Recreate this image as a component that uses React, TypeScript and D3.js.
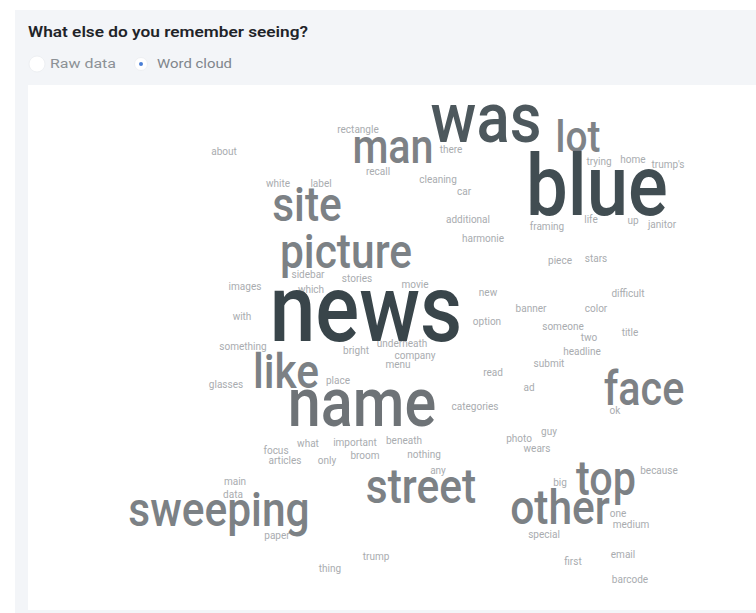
import React from "react";
import * as d3 from "d3";

const W = 756;
const H = 613;

const TITLE = "What else do you remember seeing?";
const OPTIONS = ["Raw data", "Word cloud"];

// words, their counts and their layout position (cloud units, offset from cloud centre)
const words = [
  "news", "blue", "was", "name", "picture", "site", "man", "lot", "like", "face", "street", "sweeping", "other", "top",
  "rectangle", "about", "recall", "white", "label", "there", "cleaning", "car", "trying", "home", "trump's",
  "additional", "framing", "life", "up", "janitor", "harmonie", "piece", "stars", "new", "difficult",
  "sidebar", "stories", "images", "which", "movie", "with", "something", "bright", "underneath", "company",
  "menu", "glasses", "place", "categories", "option", "banner", "color", "someone", "title", "two",
  "headline", "submit", "read", "ad", "ok", "focus", "what", "important", "beneath", "articles",
  "only", "broom", "nothing", "any", "main", "data", "paper", "trump", "thing", "guy",
  "photo", "wears", "because", "big", "one", "medium", "special", "first", "email", "barcode",
];
const counts = [
  67, 55, 38, 35, 18, 18, 17, 15, 18, 17, 18, 18, 18, 17,
  1, 1, 1, 1, 1, 1, 1, 1, 1, 1, 1,
  1, 1, 1, 1, 1, 1, 1, 1, 1, 1,
  1, 1, 1, 1, 1, 1, 1, 1, 1, 1,
  1, 1, 1, 1, 1, 1, 1, 1, 1, 1,
  1, 1, 1, 1, 1, 1, 1, 1, 1, 1,
  1, 1, 1, 1, 1, 1, 1, 1, 1, 1,
  1, 1, 1, 1, 1, 1, 1, 1, 1, 1,
];
const layoutX = [
  -34, 197, 86, -38, -54, -93, -7, 178, -114, 244, 21, -181, 160, 206,
  -42, -176, -22, -122, -79, 51, 38, 64, 199, 233, 268,
  68, 147, 191, 233, 262, 83, 160, 196, 88, 228,
  -92, -43, -155, -89, 15, -158, -157, -44, 2, 15,
  -2, -174, -62, 75, 87, 131, 196, 163, 230, 189,
  182, 149, 93, 129, 215, -124, -92, -45, 4, -115,
  -73, -35, 24, 38, -165, -167, -123, -24, -70, 149,
  119, 137, 259, 160, 218, 231, 144, 173, 223, 230,
];
const layoutY = [
  1, -125, -198, 86, -72, -119, -177, -188, 48, 65, 163, 186, 184, 155,
  -207, -185, -165, -153, -153, -187, -157, -145, -175, -177, -172,
  -117, -110, -117, -116, -112, -98, -76, -78, -44, -43,
  -62, -58, -50, -47, -52, -20, 10, 14, 7, 19,
  28, 48, 44, 70, -15, -28, -28, -10, -4, 1,
  15, 27, 36, 51, 74, 114, 107, 106, 104, 124,
  124, 119, 118, 134, 145, 158, 199, 220, 232, 95,
  102, 112, 134, 146, 177, 188, 198, 225, 218, 243,
];

const CX = 400;
const CY = 340;

export default function App() {
  const x = d3.scaleLinear().domain([-300, 300]).range([CX - 300, CX + 300]);
  const y = d3.scaleLinear().domain([-300, 300]).range([CY - 300, CY + 300]);
  const maxCount = d3.max(counts) as number;
  const size = d3.scaleSqrt().domain([0, maxCount]).range([0, 82]);
  const color = d3
    .scaleLinear<string>()
    .domain([1, 15, 35, 38, 67])
    .range(["#a9acaf", "#7f8387", "#6e7377", "#4d585d", "#39454a"])
    .clamp(true);

  const items = words.map((w, i) => ({
    text: w,
    count: counts[i],
    x: x(layoutX[i]),
    y: y(layoutY[i]),
  }));
  // draw small words first so big words sit on top
  const sorted = [...items].sort((a, b) => a.count - b.count);

  return (
    <svg
      width={W}
      height={H}
      style={{ position: "absolute", left: 0, top: 0, display: "block" }}
      fontFamily="Roboto, 'Noto Sans', sans-serif"
    >
      <rect x={0} y={0} width={W} height={H} fill="#ffffff" />
      <rect x={15} y={10} width={W - 15} height={H - 10} fill="#f3f5f8" />
      <text
        x={28}
        y={37}
        fontSize={14}
        fontWeight={600}
        fill="#1f2429"
        textLength={280}
        lengthAdjust="spacingAndGlyphs"
      >
        {TITLE}
      </text>
      {/* radio buttons */}
      <circle cx={37} cy={64} r={8} fill="#ffffff" stroke="#eef0f3" strokeWidth={1} />
      <text x={50} y={68} fontSize={12.5} fill="#8c9196" textLength={66} lengthAdjust="spacingAndGlyphs">
        {OPTIONS[0]}
      </text>
      <circle cx={141} cy={64} r={6.5} fill="#ffffff" stroke="#eef0f3" strokeWidth={1} />
      <circle cx={141} cy={64} r={2} fill="#4a7fd6" />
      <text x={157} y={68} fontSize={12.5} fill="#7f858b" textLength={75} lengthAdjust="spacingAndGlyphs">
        {OPTIONS[1]}
      </text>
      <rect x={28} y={85} width={W - 28} height={H - 88} fill="#ffffff" />
      <g>
        {sorted.map((d) => (
          <text
            key={d.text}
            transform={`translate(${d.x},${d.y}) scale(1,${d.count > 5 ? 1.15 : 1.05})`}
            textAnchor="middle"
            fontSize={size(d.count)}
            fontWeight={d.count > 5 ? 500 : 400}
            fill={color(d.count)}
          >
            {d.text}
          </text>
        ))}
      </g>
    </svg>
  );
}
